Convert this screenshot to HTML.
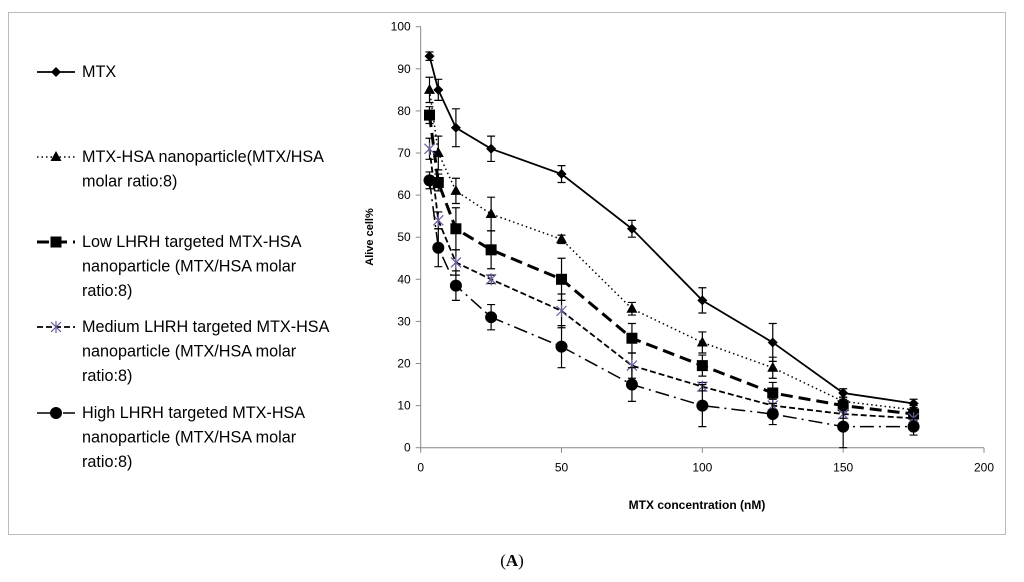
<!DOCTYPE html>
<html><head><meta charset="utf-8"><style>
body{margin:0;background:#fff;}
svg{display:block;font-family:"Liberation Sans",sans-serif;}
</style></head><body>
<svg width="1024" height="582" viewBox="0 0 1024 582">
<rect x="8.5" y="12.5" width="997" height="522" fill="#fff" stroke="#bbb"/>
<g id="grid"></g>
<g id="series"></g>
<g id="legend"></g>
<text x="373" y="237" transform="rotate(-90 373 237)" text-anchor="middle" font-size="11" font-weight="bold">Alive cell%</text>
<text x="697" y="509" text-anchor="middle" font-size="12" font-weight="bold">MTX concentration (nM)</text>
<text x="512" y="566" text-anchor="middle" font-size="17" font-family="Liberation Serif,serif">(<tspan font-weight="bold">A</tspan>)</text>
</svg>
<script>
const xVals=[3.125,6.25,12.5,25,50,75,100,125,150,175];
const mtx=[93,85,76,71,65,52,35,25,13,10.5];
const mtxErr=[1,2.5,4.5,3,2,2,3,4.5,1,1];
const hsa=[85,70,61,55.5,49.5,33,25,19,11,9];
const hsaErr=[3,4,3,4,1,1.5,2.5,2.5,1,1];
const low=[79,63,52,47,40,26,19.5,13,10,8];
const lowErr=[2,2,5,4.5,5,3.5,2.5,2.5,1.5,1.5];
const med=[71,54,44,40,32.5,19.5,14.5,10,8,7];
const medErr=[2.5,2,3,1,4,3,1,1.5,1,1];
const high=[63.5,47.5,38.5,31,24,15,10,8,5,5];
const highErr=[2,4.5,3.5,3,5,4,5,2.5,5,2];
const xTicks=[0,50,100,150,200];
const yTicks=[0,10,20,30,40,50,60,70,80,90,100];
const NS="http://www.w3.org/2000/svg";
const X=v=>420.7+v*2.8165, Y=v=>447.7-v*4.21;
function mk(tag,attrs,parent){const e=document.createElementNS(NS,tag);for(const k in attrs)e.setAttribute(k,attrs[k]);parent.appendChild(e);return e;}
const g=document.getElementById('grid');
let a=mk('line',{x1:X(0),y1:Y(0),x2:X(200),y2:Y(0),stroke:'#888'},g);


a=mk('line',{x1:X(0),y1:Y(0),x2:X(0),y2:Y(100),stroke:'#888'},g);


xTicks.forEach(t=>{mk('line',{x1:X(t),y1:Y(0),x2:X(t),y2:Y(0)+5,stroke:'#888'},g);
 const tx=mk('text',{x:X(t),y:Y(0)+24,'text-anchor':'middle','font-size':12},g);tx.textContent=t;
 
 });
yTicks.forEach(t=>{mk('line',{x1:X(0)-5,y1:Y(t),x2:X(0),y2:Y(t),stroke:'#888'},g);
 const tx=mk('text',{x:X(0)-10,y:Y(t)+4,'text-anchor':'end','font-size':12},g);tx.textContent=t;
 
 });
function marker(type,x,y,p){
 if(type==='diamond')return mk('path',{d:`M${x} ${y-5}L${x+5} ${y}L${x} ${y+5}L${x-5} ${y}Z`,fill:'#000'},p);
 if(type==='tri')return mk('path',{d:`M${x} ${y-6}L${x+5.5} ${y+4}L${x-5.5} ${y+4}Z`,fill:'#000'},p);
 if(type==='sq')return mk('rect',{x:x-5.5,y:y-5.5,width:11,height:11,fill:'#000'},p);
 if(type==='star'){const s=mk('g',{stroke:'#6a5a9a','stroke-width':1.2},p);
  mk('line',{x1:x-5,y1:y-5,x2:x+5,y2:y+5},s);mk('line',{x1:x-5,y1:y+5,x2:x+5,y2:y-5},s);mk('line',{x1:x,y1:y-6,x2:x,y2:y+6},s);return s;}
 return mk('circle',{cx:x,cy:y,r:6,fill:'#000'},p);}
const series=[
 {name:'mtx',vals:mtx,err:mtxErr,dash:'',w:1.8,m:'diamond'},
 {name:'mtx-hsa',vals:hsa,err:hsaErr,dash:'1.5 3',w:1.5,m:'tri'},
 {name:'low-lhrh',vals:low,err:lowErr,dash:'12 6',w:3,m:'sq'},
 {name:'medium-lhrh',vals:med,err:medErr,dash:'6 3',w:1.8,m:'star'},
 {name:'high-lhrh',vals:high,err:highErr,dash:'14 5 2 5',w:1.5,m:'circle'}];
const sg=document.getElementById('series');
series.forEach(s=>{
 const grp=mk('g',{},sg);
 
 
 const pts=s.vals.map((v,i)=>X(xVals[i])+','+Y(v)).join(' ');
 const pl=mk('polyline',{points:pts,fill:'none',stroke:'#000','stroke-width':s.w,'stroke-dasharray':s.dash},grp);
 
 
 s.vals.forEach((v,i)=>{const x=X(xVals[i]);
  const eb=mk('path',{d:`M${x} ${Y(v+s.err[i])}V${Y(v-s.err[i])}M${x-4} ${Y(v+s.err[i])}H${x+4}M${x-4} ${Y(v-s.err[i])}H${x+4}`,stroke:'#000','stroke-width':1.2,fill:'none'},grp);
  
  
  const m=marker(s.m,x,Y(v),grp);
  
  });
});
const legend=[
 {y:72,lines:['MTX']},
 {y:157,lines:['MTX-HSA nanoparticle(MTX/HSA','molar ratio:8)']},
 {y:242,lines:['Low LHRH targeted MTX-HSA','nanoparticle (MTX/HSA molar','ratio:8)']},
 {y:327,lines:['Medium LHRH targeted MTX-HSA','nanoparticle (MTX/HSA molar','ratio:8)']},
 {y:413,lines:['High LHRH targeted MTX-HSA','nanoparticle (MTX/HSA molar','ratio:8)']}];
const lg=document.getElementById('legend');
legend.forEach((L,i)=>{const s=series[i];
 const e=mk('g',{},lg);
 
 
 mk('line',{x1:37,y1:L.y,x2:75,y2:L.y,stroke:'#000','stroke-width':s.w,'stroke-dasharray':s.dash},e);
 marker(s.m,56,L.y,e);
 L.lines.forEach((t,j)=>{const tx=mk('text',{x:82,y:L.y+5+j*24.5,'font-size':16.2},e);tx.textContent=t;});
});
</script>
</body></html>
